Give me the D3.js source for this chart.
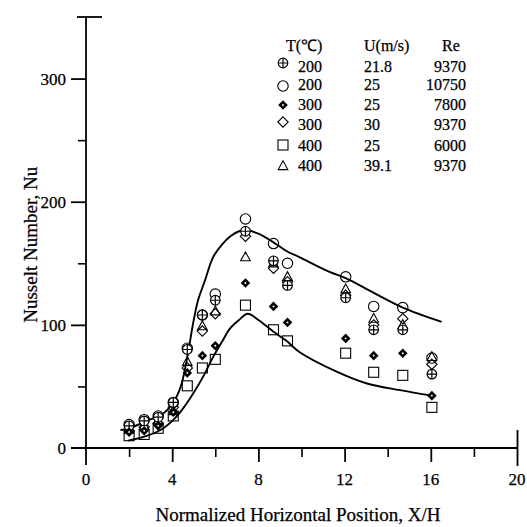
<!DOCTYPE html>
<html><head><meta charset="utf-8">
<script src="https://cdn.jsdelivr.net/npm/d3@7/dist/d3.min.js"></script>
<style>body{margin:0;background:#fff}svg{display:block}</style>
</head><body>
<svg id="c" width="527" height="527"></svg>
<script>
// ---- data ----
const xPositions = [2.0, 2.7, 3.35, 4.05, 4.7, 5.4, 6.0, 7.4, 8.7, 9.35, 12.05, 13.35, 14.7, 16.05];
const nuT200U21 = [18, 22, 25, 37, 80, 108, 120, 176, 152, 132, 122, 96, 96, 60];
const nuT200U25 = [19, 23, 26, 37, 81, 108, 125, 186, 166, 150, 139, 115, 114, 73];
const nuT300U25 = [13, 14, 18, 29, 61, 75, 83, 134, 115, 102, 89, 75, 77, 42.5];
const nuT300U30 = [14, 17, 20, 33, 65, 95, 109, 172, 146, 135, 124, 100, 105, 68];
const nuT400U25 = [10, 11, 16, 26, 50.5, 65, 72, 116, 96, 87, 77, 61.5, 59, 33];
const nuT400U39 = [15, 18, 22, 30, 70, 99, 111, 155, 150, 139, 129, 105, 100, 74];
const upperCurveX = [1.6, 2.0, 2.8, 3.5, 4.05, 4.4, 4.67, 5.0, 5.2, 5.5, 5.9, 6.3, 6.7, 7.1, 7.45, 8.0, 8.7, 9.3, 9.9, 11.3, 12.05, 13.35, 14.7, 16.5];
const upperCurveY = [14.6, 16, 22, 27, 37, 50, 71, 104, 120, 135, 155, 165, 172, 176, 177, 174, 167, 160, 155, 143, 138, 126, 114, 102.5];
const lowerCurveX = [1.96, 2.82, 3.5, 4.05, 4.5, 4.98, 5.5, 5.9, 6.3, 6.68, 7.1, 7.5, 8.0, 8.69, 9.3, 9.9, 11.63, 13.0, 14.57, 16.07];
const lowerCurveY = [6, 9.8, 15, 22.8, 32, 44.4, 60, 74, 86, 97, 104, 109, 104, 94.6, 87, 78, 62, 52.6, 47, 42.5];
const legendT = ["200", "200", "300", "300", "400", "400"];
const legendU = ["21.8", "25", "25", "30", "25", "39.1"];
const legendRe = ["9370", "10750", "7800", "9370", "6000", "9370"];
const xTicks = [0, 4, 8, 12, 16, 20];
const xMinorTicks = [2, 6, 10, 14, 18];
const yTicks = [0, 100, 200, 300];
const yMinorTicks = [50, 150, 250];
const xTitle = "Normalized Horizontal Position, X/H";
const yTitle = "Nusselt Number, Nu";

// ---- layout ----
const svg = d3.select("#c");
const font = "'Liberation Serif','Times New Roman',serif";
const x = d3.scaleLinear().domain([0, 20]).range([86, 517]);
const y = d3.scaleLinear().domain([0, 350]).range([448, 17]);

const series = [
  {vals: nuT200U21, sym: "circplus"},
  {vals: nuT200U25, sym: "circle"},
  {vals: nuT300U25, sym: "diamondFill"},
  {vals: nuT300U30, sym: "diamond"},
  {vals: nuT400U25, sym: "square"},
  {vals: nuT400U39, sym: "triangle"}
];

function drawSym(g, type, cx, cy) {
  const s = g.append("g").attr("transform", `translate(${cx},${cy})`);
  if (type === "circplus") {
    s.append("circle").attr("r", 4.8).attr("stroke", "#000").attr("stroke-width", 1.2).attr("fill", "#fff");
    s.append("path").attr("d", "M-4.8,0H4.8M0,-4.8V4.8").attr("stroke", "#000").attr("stroke-width", 1.2);
  } else if (type === "circle") {
    s.append("circle").attr("r", 5.2).attr("stroke", "#000").attr("stroke-width", 1.1).attr("fill", "none");
  } else if (type === "diamondFill") {
    s.append("path").attr("d", "M0,-4.8L4.8,0L0,4.8L-4.8,0Z").attr("fill", "#000").attr("stroke", "none");
    s.append("path").attr("d", "M0,-1.2L1.2,0L0,1.2L-1.2,0Z").attr("fill", "#fff").attr("stroke", "none");
  } else if (type === "diamond") {
    s.append("path").attr("d", "M0,-5.2L5.2,0L0,5.2L-5.2,0Z").attr("stroke", "#000").attr("stroke-width", 1.1).attr("fill", "none");
  } else if (type === "square") {
    s.append("rect").attr("x", -5).attr("y", -5).attr("width", 10).attr("height", 10).attr("stroke", "#000").attr("stroke-width", 1.1).attr("fill", "none");
  } else if (type === "triangle") {
    s.append("path").attr("d", "M0,-5.2L4.8,3.6L-4.8,3.6Z").attr("stroke", "#000").attr("stroke-width", 1.1).attr("fill", "none");
  }
}

// axes
const ax = svg.append("g").attr("stroke", "#000").attr("stroke-width", 1.8).attr("fill", "none");
ax.append("line").attr("x1", x(0)).attr("x2", x(0)).attr("y1", y(350)).attr("y2", y(0) + 17);
ax.append("line").attr("x1", x(0) - 15).attr("x2", x(20)).attr("y1", y(0)).attr("y2", y(0));
ax.append("line").attr("x1", x(0) - 9).attr("x2", x(0) + 16).attr("y1", y(350)).attr("y2", y(350));

const xAxis = d3.axisBottom(x).tickValues(xTicks.filter(d => d > 0)).tickSize(14).tickFormat("");
const gx = svg.append("g").attr("transform", `translate(0,${y(0)})`).call(xAxis);
gx.select(".domain").remove();
gx.selectAll(".tick line").attr("stroke", "#000").attr("stroke-width", 1.8);
gx.selectAll(".tick").filter(d => d === 20).select("line").attr("y1", -18).attr("y2", 18);
const xAxisMinor = d3.axisBottom(x).tickValues(xMinorTicks).tickSize(9).tickFormat("");
const gxm = svg.append("g").attr("transform", `translate(0,${y(0)})`).call(xAxisMinor);
gxm.select(".domain").remove();
gxm.selectAll(".tick line").attr("stroke", "#000").attr("stroke-width", 1.6);
svg.append("g").selectAll("text").data(xTicks).join("text")
  .attr("x", d => x(d)).attr("y", 485).attr("text-anchor", "middle")
  .attr("font-family", font).attr("font-size", 17).attr("stroke", "#000").attr("stroke-width", 0.25).text(d => d);

const yAxis = d3.axisLeft(y).tickValues(yTicks.filter(d => d > 0)).tickSize(15).tickFormat("");
const gy = svg.append("g").attr("transform", `translate(${x(0)},0)`).call(yAxis);
gy.select(".domain").remove();
gy.selectAll(".tick line").attr("stroke", "#000").attr("stroke-width", 1.8);
const yAxisMinor = d3.axisLeft(y).tickValues(yMinorTicks).tickSize(8).tickFormat("");
const gym = svg.append("g").attr("transform", `translate(${x(0)},0)`).call(yAxisMinor);
gym.select(".domain").remove();
gym.selectAll(".tick line").attr("stroke", "#000").attr("stroke-width", 1.6);
svg.append("g").selectAll("text").data(yTicks).join("text")
  .attr("x", 66).attr("y", d => y(d) + 6).attr("text-anchor", "end")
  .attr("font-family", font).attr("font-size", 17).attr("stroke", "#000").attr("stroke-width", 0.25).text(d => d);

svg.append("text").attr("x", 298).attr("y", 521).attr("text-anchor", "middle")
  .attr("font-family", font).attr("font-size", 19).attr("stroke", "#000").attr("stroke-width", 0.25).text(xTitle);
svg.append("text").attr("transform", `translate(37,${y(165)}) rotate(-90)`).attr("text-anchor", "middle")
  .attr("font-family", font).attr("font-size", 19).attr("stroke", "#000").attr("stroke-width", 0.25).text(yTitle);

// curves
const lineGen = d3.line().x(d => x(d[0])).y(d => y(d[1])).curve(d3.curveCatmullRom.alpha(0.5));
[[upperCurveX, upperCurveY], [lowerCurveX, lowerCurveY]].forEach(([xs, ys]) => {
  svg.append("path").datum(xs.map((v, i) => [v, ys[i]])).attr("d", lineGen)
    .attr("fill", "none").attr("stroke", "#000").attr("stroke-width", 1.9);
});

// points
const pg = svg.append("g");
[4, 5, 3, 1, 0, 2].forEach(si => {
  const s = series[si];
  s.vals.forEach((v, i) => drawSym(pg, s.sym, x(xPositions[i]), y(v)));
});

// legend
const lg = svg.append("g");
const lt = {"font-family": font, "font-size": 16, fill: "#000", stroke: "#000", "stroke-width": 0.25};
function ltext(xp, yp, txt, anchor) {
  const t = lg.append("text").attr("x", xp).attr("y", yp).attr("text-anchor", anchor || "start").text(txt);
  Object.entries(lt).forEach(([k, v]) => t.attr(k, v));
}
ltext(286, 51, "T(\u2103)");
ltext(364, 51, "U(m/s)");
ltext(442, 51, "Re");
const rowY = [72, 90, 110, 130, 151, 171];
const symDy = [-9, -4, -5, -8, -6, -5];
legendT.forEach((t, i) => {
  drawSym(lg, series[i].sym, 283, rowY[i] + symDy[i]);
  ltext(298, rowY[i], t);
  ltext(364, rowY[i], legendU[i]);
  ltext(466, rowY[i], legendRe[i], "end");
});
</script>
</body></html>
